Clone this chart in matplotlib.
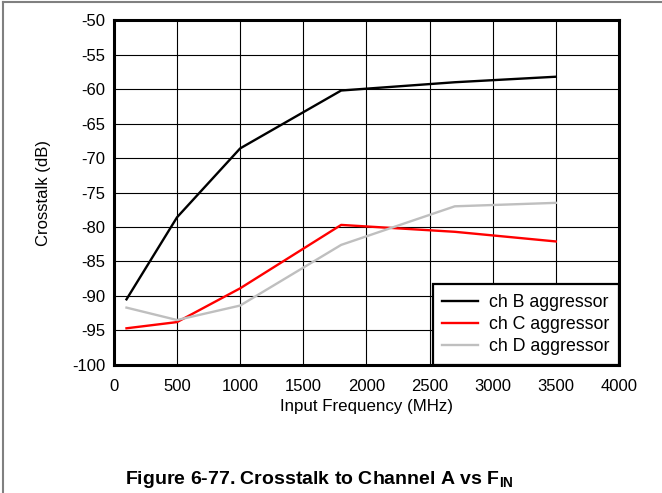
import matplotlib.pyplot as plt
from matplotlib.lines import Line2D

plt.rcParams['font.family'] = ['Liberation Sans', 'DejaVu Sans']
plt.rcParams['mathtext.fontset'] = 'custom'
plt.rcParams['mathtext.rm'] = 'Liberation Sans'
plt.rcParams['mathtext.bf'] = 'Liberation Sans:bold'
plt.rcParams['axes.unicode_minus'] = False

freq = [100, 500, 1000, 1800, 2700, 3500]
ch_b = [-90.5, -78.6, -68.6, -60.2, -59.0, -58.2]
ch_c = [-94.7, -93.8, -88.9, -79.7, -80.7, -82.1]
ch_d = [-91.7, -93.5, -91.4, -82.6, -77.0, -76.5]
labels = ["ch B aggressor", "ch C aggressor", "ch D aggressor"]
colors = ["black", "#ff0000", "#bfbfbf"]

fig = plt.figure(figsize=(6.62, 4.93), dpi=100)
ax = fig.add_axes([0.172, 0.26, 0.763, 0.699])

for ys, lab, col in zip([ch_b, ch_c, ch_d], labels, colors):
    ax.plot(freq, ys, color=col, lw=1.7, label=lab)

ax.set_xlim(0, 4000)
ax.set_ylim(-100, -50)
ax.set_xticks(range(0, 4001, 500))
ax.set_yticks(range(-100, -49, 5))
ax.grid(True, color="black", lw=0.8)
ax.tick_params(axis="x", length=0, labelsize=12, pad=10)
ax.tick_params(axis="y", length=0, labelsize=12, pad=6)
for s in ax.spines.values():
    s.set_linewidth(2.2)
ax.set_xlabel("Input Frequency (MHz)", fontsize=12.2, labelpad=4)
ax.set_ylabel("Crosstalk (dB)", fontsize=12, labelpad=15)

leg = ax.legend(loc="lower right", borderaxespad=0, fancybox=False,
                fontsize=12.8, handlelength=2.0, labelspacing=0.28,
                borderpad=0.55, handletextpad=0.6)
leg.get_frame().set_edgecolor("black")
leg.get_frame().set_linewidth(1.6)
leg.get_frame().set_alpha(1)

fig.text(0.483, 0.018, r"Figure 6-77. Crosstalk to Channel A vs F$_{\mathbf{IN}}$",
         ha="center", va="baseline", fontsize=14, fontweight="bold")

# page border lines (left and top)
fig.add_artist(Line2D([0.005, 0.005], [0, 0.995], color="#808080", lw=1.5))
fig.add_artist(Line2D([0.005, 1], [0.995, 0.995], color="#808080", lw=1.5))

fig.savefig("out.png", dpi=100)
